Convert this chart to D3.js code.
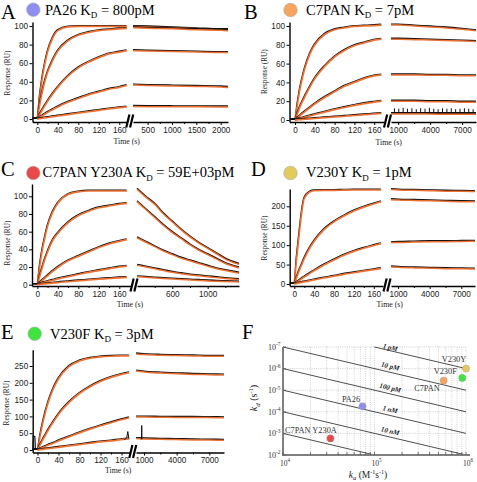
<!DOCTYPE html>
<html><head><meta charset="utf-8">
<script src="https://cdn.jsdelivr.net/npm/d3@7"></script>
<style>body{margin:0;background:#fff} svg{display:block}</style>
</head><body><svg id="c" width="477" height="482"></svg>
<script>
// ---------------- DATA ----------------
const assocTimes = [-8,0,5,10,15,20,30,40,60,80,100,120,140,160,175];

const aAssoc = [
  [0,0,25,45,60,72,87,95,99,99.5,99.5,99.5,99.5,99.5,99.5],
  [0,0,16,30,41,50,63,73,84,90,93,95,96,97,97.5],
  [0,0,5,10,14.5,19,27,34,46,55,61,66,70,72,73.5],
  [0,0,1.8,3.5,5.3,7,10,13,18,22,26,29,32,34,36],
  [0,0,0.4,0.8,1.2,1.6,2.4,3.2,4.8,6.3,7.8,9.3,10.8,12.2,13]
];
const aDissTimes = [200,500,1000,1500,2000,2150];
const aDiss = [
  [99.5,99,98,97,96,96],
  [98,97.5,97,96,95.5,95],
  [73.5,73,72.5,72,71.5,71.5],
  [36.5,36,35.5,35,34.5,34],
  [13.5,13.3,13.2,13.1,13,13]
];

const bAssoc = [
  [0,0,17,33,45,55,70,80,91,96,98,99.5,100,100.5,101],
  [0,0,7,14,19.5,25,35,44,57,67,74,79,82,85,86],
  [0,0,2.3,4.5,6.8,9,13,17,24,30,36,40,44,47,48],
  [0,0,0.8,1.5,2.2,3,4.3,5.7,8.3,11,13.3,15.5,17.5,19,20],
  [0,0,0.2,0.4,0.6,0.8,1.2,1.6,2.4,3.2,4,4.8,5.6,6.4,7]
];
const bDissTimes = [330,1000,2500,4000,5500,7000,8300];
const bDiss = [
  [101,101,100,99,98,96.5,95],
  [86,86,85.5,85,84.5,84,83.5],
  [48,48,48,47.5,47.5,47,47],
  [20,20,20,19.5,19.5,19,19],
  [6.5,6.5,6.5,6.3,6.2,6.1,6]
];
const bSpikeBase = 8;
const bSpikeTimes = [650,1060,1470,1880,2290,2700,3110,3520,3930,4340,4750,5160,5570,5980,6390,6800,7210,7620,8030];
const bSpikeHeights = [12.5,12,13,12,12.5,11.5,12.5,12,13,12,11.5,12.5,12,12.5,11.5,12,12.5,12,11.5];

const cAssoc = [
  [0,0,22,40,54,66,82,92,102,105,106,106,106,106,106],
  [0,0,10,20,29,37,50,58,70,78,83,87,89,91,92],
  [0,0,2.5,5,7.5,10,15,19.5,27,32,37,42,46,49,51],
  [0,0,1,2,2.8,3.5,5,6.5,9,11.5,14,16,18,20,21],
  [0,0,0.3,0.6,0.9,1.2,1.8,2.4,3.4,4.4,5.3,6.2,7,7.8,8.3]
];
const cDissTimes = [200,300,400,500,600,700,800,900,1000,1100,1200,1355];
const cDiss = [
  [108,99,91,80,71,62,54,47,41,35,29,23],
  [94,85,76,67,59,52,45,39,34,29,24,19],
  [53,48,43,38,34,30,27,24,21,18,16,13],
  [22,20,18,16,14,12.5,11,10,9,8,7,5.7],
  [9,8.3,7.6,7,6.4,5.8,5.3,4.8,4.3,3.9,3.5,3]
];

const dAssoc = [
  [0,0,70,130,185,220,236,240,241,241,241.5,242,242,242,242],
  [0,0,18,35,50,65,90,110,140,160,175,188,198,206,212],
  [0,0,4.5,9,13.5,18,26,34,49,62,74,84,92,99,104],
  [0,0,1.5,3,4.3,5.5,8,10.5,15.5,20,25,29,33,37,40]
];
const dDissTimes = [330,1000,2500,4000,5500,7000,8300];
const dDiss = [
  [243,242,241,240,239,238.5,238],
  [217,216,215,214,213,212,211.5],
  [106,107,108,109,109,109.5,110],
  [44,43,41.5,40.5,39.5,39,38.5]
];

const eAssoc = [
  [0,0,42,80,112,140,182,212,248,265,273,277,279,280,280],
  [0,0,15,30,44,58,83,106,141,168,188,204,216,225,230],
  [0,0,3.5,7,10.5,14,20,27,39,51,62,72,81,90,96],
  [0,0,1,2,3,4,6,8,12,16,20,24,27,31,33]
];
const eDissTimes = [266,1000,2500,4000,5500,7000,8350];
const eDiss = [
  [286,284,282,281,280,279,279],
  [235,232,229,227,225,224,223],
  [98,98,97.5,97,97,96.5,96],
  [34,33,32,31,30,29.5,29]
];
const eGlitchStart = [[-9,0],[-8,42],[-5,40],[-4,0]];
const eGlitchEnd = [[165,30],[170,36],[172,55],[174,34]];
const eGlitchDiss = [[700,33],[770,33],[790,73],[810,33],[850,33]];

const leftTicks = [0,40,80,120,160];
const leftMinor = [20,60,100,140];
const aRightTicks = [500,1000,1500,2000];
const aRightMinor = [750,1250,1750];
const longRightTicks = [1000,4000,7000];
const longRightMinor = [2500,5500];
const cRightTicks = [600,1000];
const cRightMinor = [400,800,1200];
const ticks100 = [0,20,40,60,80,100];
const ticksD = [0,50,100,150,200];
const ticksE = [0,50,100,150,200,250];

const titleNames = ["PA26","C7PAN","C7PAN Y230A","V230Y","V230F"];
const titleKD = ["800pM","7pM","59E+03pM","1pM","3pM"];
const variantColors = ["#8f8ff2","#f5a55e","#e84a4a","#e2cb5e","#3fe43f"];

// Panel F
const fNames = ["PA26","C7PAN","C7PAN Y230A","V230Y","V230F"];
const fKa = [7.4e4, 5.7e5, 3.3e4, 1.0e6, 9.1e5];
const fKd = [5.6e-5, 3.6e-6, 1.7e-3, 1.0e-6, 2.7e-6];
const isoKD = [1e-12,1e-11,1e-10,1e-9,1e-8,1e-7];
const isoLabels = ["1 pM","10 pM","100 pM","1 nM","10 nM",""];
const fYDecades = [1e-7,1e-6,1e-5,1e-4,1e-3,1e-2];
const fXDecades = [1e4,1e5,1e6];

// ---------------- DRAW ----------------
const svg = d3.select("#c");
const serif = '"Liberation Serif","Times New Roman",serif';
const sans = '"Liberation Sans",Arial,sans-serif';
const ORANGE = "#ef6b2b", BLACK = "#111";

function title(o){
  svg.append("text").attr("x",o.lx).attr("y",o.ly).attr("font-family",serif)
    .attr("font-size",20.5).attr("fill","#000").text(o.letter);
  if (o.idx === undefined) return;
  svg.append("circle").attr("cx",o.cx).attr("cy",o.cy).attr("r",6.8)
    .attr("fill",variantColors[o.idx]).attr("stroke","#aaa").attr("stroke-width",0.6);
  const t = svg.append("text").attr("x",o.tx).attr("y",o.ty).attr("font-family",serif)
    .attr("font-size",14.5).attr("fill","#000");
  t.append("tspan").text(titleNames[o.idx]+" K");
  t.append("tspan").attr("font-size",9).attr("dy",3.5).text("D");
  t.append("tspan").attr("dy",-3.5).text(" = "+titleKD[o.idx]);
}

function styleAxis(sel){
  sel.selectAll("path.domain").attr("stroke","#000").attr("stroke-width",1.4);
  sel.selectAll(".tick line").attr("stroke","#000").attr("stroke-width",1);
  sel.selectAll("text").attr("font-family",sans).attr("font-size",8.2).attr("fill","#222");
}

function panel(p){
  const g = svg.append("g");
  const y = d3.scaleLinear().domain([0,p.yRefVal]).range([p.y0,p.yRefPx]);
  y.domain([y.invert(p.xAxisY), y.invert(p.yTop)]).range([p.xAxisY, p.yTop]);
  const xl = d3.scaleLinear().domain([0,40]).range([p.t0, p.t0+40*p.pps]);
  xl.domain([xl.invert(p.yAxisX), xl.invert(p.leftEnd)]).range([p.yAxisX, p.leftEnd]);
  const xr = d3.scaleLinear().domain(p.rDomain).range([p.rStart, p.rEnd]);

  const ya = g.append("g").attr("transform",`translate(${p.yAxisX},0)`)
    .call(d3.axisLeft(y).tickValues(p.yTicks).tickSize(3).tickSizeOuter(0).tickPadding(1.5));
  styleAxis(ya);
  const xa = g.append("g").attr("transform",`translate(0,${p.xAxisY})`)
    .call(d3.axisBottom(xl).tickValues(leftTicks).tickSize(3).tickSizeOuter(0).tickPadding(2));
  styleAxis(xa);
  const xam = g.append("g").attr("transform",`translate(0,${p.xAxisY})`)
    .call(d3.axisBottom(xl).tickValues(leftMinor).tickSize(2).tickFormat(""));
  xam.select("path.domain").remove(); styleAxis(xam);
  const xb = g.append("g").attr("transform",`translate(0,${p.xAxisY})`)
    .call(d3.axisBottom(xr).tickValues(p.rTicks).tickSize(3).tickSizeOuter(0).tickPadding(2).tickFormat(d3.format("d")));
  styleAxis(xb);
  const xbm = g.append("g").attr("transform",`translate(0,${p.xAxisY})`)
    .call(d3.axisBottom(xr).tickValues(p.rMinor).tickSize(2).tickFormat(""));
  xbm.select("path.domain").remove(); styleAxis(xbm);

  // break marker
  const bx = (p.leftEnd + p.rStart)/2, by = p.xAxisY - 1;
  [-1.9, 1.9].forEach(dx => {
    g.append("line").attr("x1",bx+dx-1.6).attr("y1",by+6.5).attr("x2",bx+dx+1.6).attr("y2",by-6.5)
      .attr("stroke","#000").attr("stroke-width",2.2);
  });

  const lineL = d3.line().x(d=>xl(d[0])).y(d=>y(d[1])).curve(d3.curveMonotoneX);
  const lineR = d3.line().x(d=>xr(d[0])).y(d=>y(d[1])).curve(d3.curveMonotoneX);

  // black (measured) traces first, slightly offset, then orange fits
  p.assoc.forEach(vals => {
    const pts = assocTimes.map((t,i)=>[t,vals[i]]);
    g.append("path").attr("d",lineL(pts)).attr("fill","none")
      .attr("transform","translate(-0.5,-0.9)")
      .attr("stroke",BLACK).attr("stroke-width",1.1);
    g.append("path").attr("d",lineL(pts.filter(d=>d[0]>=0))).attr("fill","none")
      .attr("stroke",ORANGE).attr("stroke-width",1.7).attr("stroke-opacity",0.95);
  });
  p.diss.forEach(vals => {
    const pts = p.dissTimes.map((t,i)=>[t,vals[i]]);
    g.append("path").attr("d",lineR(pts)).attr("fill","none")
      .attr("transform","translate(0,-0.9)")
      .attr("stroke",BLACK).attr("stroke-width",1.4);
    g.append("path").attr("d",lineR(pts)).attr("fill","none")
      .attr("stroke",ORANGE).attr("stroke-width",1.5).attr("stroke-opacity",0.95);
  });
  if (p.extra) p.extra(g, xl, xr, y);

  g.append("text").attr("x",p.timeX).attr("y",p.timeY).attr("text-anchor","middle")
    .attr("font-family",serif).attr("font-size",7.8).attr("fill","#222").text("Time (s)");
  g.append("text").attr("transform",`translate(${p.respX},${p.respY}) rotate(-90)`)
    .attr("text-anchor","middle").attr("font-family",serif).attr("font-size",7.3)
    .attr("fill","#222").text("Response (RU)");
}

// Titles
title({letter:"A",lx:1,ly:18.5,idx:0,cx:33.3,cy:9.7,tx:45,ty:14.5});
title({letter:"B",lx:244,ly:18.5,idx:1,cx:290.5,cy:10,tx:306,ty:14.5});
title({letter:"C",lx:1,ly:176,idx:2,cx:33.3,cy:173,tx:42.5,ty:177});
title({letter:"D",lx:251,ly:176,idx:3,cx:290.5,cy:173,tx:306,ty:177});
title({letter:"E",lx:1,ly:338.5,idx:4,cx:34.7,cy:333.7,tx:50,ty:338.5});
title({letter:"F",lx:242,ly:339});

panel({assoc:aAssoc, diss:aDiss, dissTimes:aDissTimes,
  yAxisX:32.5, xAxisY:122, yTop:22, y0:119, yRefVal:100, yRefPx:26, yTicks:ticks100,
  t0:37.3, pps:0.5125, leftEnd:126.5, rStart:133, rEnd:228, rDomain:[200,2150],
  rTicks:aRightTicks, rMinor:aRightMinor, timeX:126.7, timeY:143.5, respX:9.5, respY:73});

panel({assoc:bAssoc, diss:bDiss, dissTimes:bDissTimes,
  yAxisX:289.5, xAxisY:122, yTop:22, y0:120, yRefVal:100, yRefPx:26, yTicks:ticks100,
  t0:295, pps:0.495, leftEnd:384, rStart:391, rEnd:476, rDomain:[330,8300],
  rTicks:longRightTicks, rMinor:longRightMinor, timeX:388.7, timeY:145, respX:266.5, respY:71.7,
  extra:(g,xl,xr,y)=>{
    g.append("line").attr("x1",xr(330)).attr("x2",xr(8300)).attr("y1",y(bSpikeBase)).attr("y2",y(bSpikeBase))
      .attr("stroke",BLACK).attr("stroke-width",1.1);
    bSpikeTimes.forEach((t,i)=>{
      g.append("line").attr("x1",xr(t)).attr("x2",xr(t)).attr("y1",y(bSpikeBase)).attr("y2",y(bSpikeHeights[i]))
        .attr("stroke",BLACK).attr("stroke-width",1);
    });
  }});

panel({assoc:cAssoc, diss:cDiss, dissTimes:cDissTimes,
  yAxisX:32, xAxisY:286, yTop:184, y0:284.7, yRefVal:100, yRefPx:196.3, yTicks:ticks100,
  t0:37.3, pps:0.5125, leftEnd:131, rStart:137, rEnd:239, rDomain:[200,1355],
  rTicks:cRightTicks, rMinor:cRightMinor, timeX:130, timeY:307, respX:9.5, respY:243});

panel({assoc:dAssoc, diss:dDiss, dissTimes:dDissTimes,
  yAxisX:289.7, xAxisY:286, yTop:189, y0:284, yRefVal:200, yRefPx:206.3, yTicks:ticksD,
  t0:294.3, pps:0.497, leftEnd:383, rStart:391, rEnd:475, rDomain:[330,8300],
  rTicks:longRightTicks, rMinor:longRightMinor, timeX:389.7, timeY:307, respX:266.5, respY:238});

panel({assoc:eAssoc, diss:eDiss, dissTimes:eDissTimes,
  yAxisX:32.7, xAxisY:452.5, yTop:349.7, y0:450, yRefVal:250, yRefPx:366, yTicks:ticksE,
  t0:37.5, pps:0.525, leftEnd:129.5, rStart:136, rEnd:224, rDomain:[266,8350],
  rTicks:longRightTicks, rMinor:longRightMinor, timeX:118.3, timeY:472.5, respX:8.8, respY:403,
  extra:(g,xl,xr,y)=>{
    const lL = d3.line().x(d=>xl(d[0])).y(d=>y(d[1]));
    const lR = d3.line().x(d=>xr(d[0])).y(d=>y(d[1]));
    g.append("path").attr("d",lL(eGlitchStart)).attr("fill","none").attr("stroke",BLACK).attr("stroke-width",1.2);
    g.append("path").attr("d",lL(eGlitchEnd)).attr("fill","none").attr("stroke",BLACK).attr("stroke-width",1);
    g.append("path").attr("d",lR(eGlitchDiss)).attr("fill","none").attr("stroke",BLACK).attr("stroke-width",1);
  }});

// ---------- Panel F ----------
(function(){
  const g = svg.append("g");
  const fx = d3.scaleLog().domain([1e4,1e6]).range([283,466]);
  const fy = d3.scaleLog().domain([1e-7,1e-2]).range([347,455]);
  // grid
  fx.ticks().filter(v=>v>1e4*1.01).forEach(v=>{
    g.append("line").attr("x1",fx(v)).attr("x2",fx(v)).attr("y1",fy(1e-7)).attr("y2",fy(1e-2))
      .attr("stroke","#bdbdbd").attr("stroke-width",0.7).attr("stroke-dasharray","1,1.2");
  });
  fYDecades.slice(0,5).forEach(v=>{
    g.append("line").attr("x1",fx(1e4)).attr("x2",fx(1e6)).attr("y1",fy(v)).attr("y2",fy(v))
      .attr("stroke","#bdbdbd").attr("stroke-width",0.7).attr("stroke-dasharray","1,1.2");
  });
  // iso-affinity lines
  const ang = Math.atan2(fy(1e-6)-fy(1e-7), fx(1e5)-fx(1e4))*180/Math.PI;
  isoKD.forEach((kd,i)=>{
    const kaMin = Math.max(1e4, 1e-7/kd), kaMax = Math.min(1e6, 1e-2/kd);
    g.append("line").attr("x1",fx(kaMin)).attr("y1",fy(kd*kaMin)).attr("x2",fx(kaMax)).attr("y2",fy(kd*kaMax))
      .attr("stroke","#222").attr("stroke-width",0.8);
    if (isoLabels[i]) {
      const kaL = 1.466e5;
      const lx = fx(kaL), ly = Math.max(fy(kd*kaL)-6, 347.5);
      g.append("text").attr("transform",`translate(${lx},${ly+2.3}) rotate(${ang})`)
        .attr("text-anchor","middle").attr("font-family",serif).attr("font-style","italic")
        .attr("font-weight","bold").attr("font-size",7).attr("fill","#222").text(isoLabels[i]);
    }
  });
  // axes
  g.append("line").attr("x1",fx(1e4)).attr("x2",fx(1e4)).attr("y1",fy(1e-7)).attr("y2",fy(1e-2)+1)
    .attr("stroke","#808080").attr("stroke-width",2);
  g.append("line").attr("x1",fx(1e4)-1).attr("x2",fx(1e6)+4).attr("y1",fy(1e-2)).attr("y2",fy(1e-2))
    .attr("stroke","#808080").attr("stroke-width",2);
  fYDecades.forEach(v=>{
    g.append("line").attr("x1",fx(1e4)).attr("x2",fx(1e4)+3).attr("y1",fy(v)).attr("y2",fy(v)).attr("stroke","#555").attr("stroke-width",0.8);
    const e = Math.round(Math.log10(v));
    const t = g.append("text").attr("x",fx(1e4)-2.5).attr("y",fy(v)+2.8).attr("text-anchor","end")
      .attr("font-family",serif).attr("font-size",8).attr("fill","#333");
    t.append("tspan").text("10");
    t.append("tspan").attr("dy",-3.5).attr("font-size",5.5).text(String(e));
  });
  fx.ticks().forEach(v=>{
    g.append("line").attr("x1",fx(v)).attr("x2",fx(v)).attr("y1",fy(1e-2)).attr("y2",fy(1e-2)-3).attr("stroke","#555").attr("stroke-width",0.8);
  });
  fXDecades.forEach(v=>{
    const e = Math.round(Math.log10(v));
    const t = g.append("text").attr("x",fx(v)+2).attr("y",fy(1e-2)+10.5).attr("text-anchor","middle")
      .attr("font-family",serif).attr("font-size",7.5).attr("fill","#333");
    t.append("tspan").text("10");
    t.append("tspan").attr("dy",-3.2).attr("font-size",5.2).text(e);
  });
  // axis titles
  const xt = g.append("text").attr("x",368).attr("y",477.5).attr("text-anchor","middle")
    .attr("font-family",serif).attr("font-size",9.5).attr("fill","#222");
  xt.append("tspan").attr("font-style","italic").text("k");
  xt.append("tspan").attr("font-style","italic").attr("font-size",6.5).attr("dy",2).text("a");
  xt.append("tspan").attr("dy",-2).text(" (M");
  xt.append("tspan").attr("font-size",6).attr("dy",-3.5).text("-1");
  xt.append("tspan").attr("dy",3.5).text("s");
  xt.append("tspan").attr("font-size",6).attr("dy",-3.5).text("-1");
  xt.append("tspan").attr("dy",3.5).text(")");
  const yt = g.append("text").attr("transform","translate(257,398) rotate(-90)").attr("text-anchor","middle")
    .attr("font-family",serif).attr("font-size",10).attr("fill","#222");
  yt.append("tspan").attr("font-style","italic").text("k");
  yt.append("tspan").attr("font-style","italic").attr("font-size",7).attr("dy",2.5).text("d");
  yt.append("tspan").attr("dy",-2.5).text(" (s");
  yt.append("tspan").attr("font-size",6.5).attr("dy",-4).text("-1");
  yt.append("tspan").attr("dy",4).text(")");
  // points
  const labelOffsets = {"PA26":[-11.5,-4.5],"C7PAN":[-16.7,10.5],"C7PAN Y230A":[-19.5,-5],"V230Y":[-12,-7],"V230F":[-17,-4]};
  fNames.forEach((n,i)=>{
    const px = fx(fKa[i]), py = fy(fKd[i]);
    const off = labelOffsets[n];
    g.append("text").attr("x",px+off[0]).attr("y",py+off[1]).attr("text-anchor","middle")
      .attr("font-family",serif).attr("font-size",8.3).attr("fill","#333").text(n);
  });
  fNames.forEach((n,i)=>{
    const ci = titleNames.indexOf(n);
    g.append("circle").attr("cx",fx(fKa[i])).attr("cy",fy(fKd[i])).attr("r",3.6)
      .attr("fill",variantColors[ci]).attr("stroke","#999").attr("stroke-width",0.4);
  });
})();
</script>
</body></html>
